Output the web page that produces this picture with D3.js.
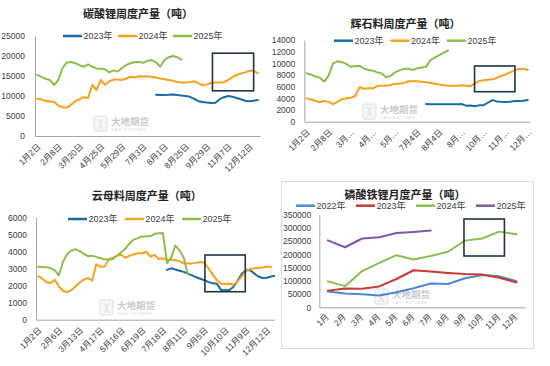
<!DOCTYPE html>
<html><head><meta charset="utf-8">
<script src="https://cdn.jsdelivr.net/npm/d3@7"></script>
<style>body{margin:0;background:#fff}svg{display:block}</style>
</head><body><svg id="c" width="550" height="366"></svg>
<script>
// ---------- DATA ----------
// Panel 1: 碳酸锂周度产量 (weekly, 53 weeks)
const lcLabels = ["1月2日","2月8日","3月20日","4月25日","5月29日","7月3日","8月1日","8月25日","9月29日","11月7日","12月12日"];
const lc2023Start = 28;
const lc2023 = [10300,10250,10250,10300,10400,10250,10100,10000,9800,9300,8700,8500,8350,8250,8300,9200,9700,10000,9800,9500,9200,8800,8700,8800,9000];
const lc2024Start = 0;
const lc2024 = [9300,9100,8800,8600,8500,7600,7200,7100,7800,8700,9200,9700,9500,12800,11500,14000,12800,13700,14100,14100,14000,14400,14800,14600,15000,14900,14850,14800,14600,14400,14200,14000,13800,13500,13400,13400,13500,13700,13200,12650,12900,13250,13400,13400,13450,14000,14700,15250,15600,15900,16300,16300,15700];
const lc2025Start = 0;
const lc2025 = [15300,14800,14300,14000,12700,14000,17000,18400,18500,18200,17700,17300,17900,17300,16900,16800,16700,15900,16400,16100,17000,17700,18200,18500,18500,18300,18800,19000,18400,17300,19000,19700,20000,19700,19100];

// Panel 2: 辉石料周度产量 (weekly, 51 weeks)
const hsLabels = ["1月2日","2月8日","3月…","4月…","5月…","7月4日","8月4日","8月…","10月…","11月…","12月…"];
const hs2023Start = 27;
const hs2023 = [3030,3000,2970,2990,3000,3000,3000,3010,3030,2750,2790,2640,2800,2820,3260,3700,3480,3400,3380,3420,3550,3550,3600,3720];
const hs2024Start = 0;
const hs2024 = [4000,3800,3600,3320,3560,3400,3000,3400,3850,4000,4100,4400,5900,5650,5750,5720,6100,6150,6200,6280,6500,6500,6650,6920,6920,6920,6850,6780,6650,6500,6380,6250,6170,6170,6170,6250,6150,6060,6550,6950,7120,7180,7260,7500,7850,8100,8450,8750,9050,9050,8850];
const hs2025Start = 0;
const hs2025 = [8300,8100,7750,7550,6860,7900,10000,10350,10200,9900,9400,9550,9550,9100,8850,8750,8450,8250,7600,7850,8450,8800,9050,9100,8850,9150,9300,9400,10550,11000,11400,11850,12200];

// Panel 3: 云母料周度产量 (weekly, 58 weeks, clipped at right)
const ymLabels = ["1月2日","2月6日","3月13日","4月17日","5月16日","6月19日","7月18日","8月11日","9月5日","10月10日","11月9日","12月12日"];
const ym2023Start = 31;
const ym2023 = [2920,3010,2940,2870,2800,2700,2600,2490,2400,2310,2200,2130,2100,1730,1720,1740,1930,2300,2700,2900,2900,2700,2520,2440,2460,2530,2580];
const ym2024Start = 0;
const ym2024 = [2550,2420,2200,2150,2340,1950,1680,1620,1730,1950,2180,2350,2440,2290,3250,3100,3110,3550,3630,3750,3800,3630,3750,3830,3890,3890,3980,3700,3800,3560,3600,3500,3520,3500,3430,3300,3300,3300,3330,3390,3330,3000,2640,2320,2100,2090,2110,2050,2260,2550,2850,2980,3010,3040,3060,3120,3080];
const ym2025Start = 0;
const ym2025 = [3100,3090,3070,3010,2900,2600,3400,3850,4050,4130,4020,3850,3720,3740,3680,3600,3540,3510,3560,3760,3950,4170,4480,4700,4780,4880,4880,4900,5030,5060,5080,3300,3650,4350,4050,3650,2650];

// Panel 4: 磷酸铁锂月度产量 (monthly)
const months = ["1月","2月","3月","4月","5月","6月","7月","8月","9月","10月","11月","12月"];
const lfp2022 = [60000,52000,49000,45000,57000,72000,90000,88000,110000,122000,117000,99000];
const lfp2023 = [63000,71000,70000,79000,107000,140000,135000,130000,126000,124000,112000,94000];
const lfp2024 = [98000,80000,137000,168000,197000,181000,194000,210000,252000,260000,286000,276000];
const lfp2025 = [253000,227000,260000,265000,281000,285000,290000];

const years3 = ["2023年","2024年","2025年"];
const years4 = ["2022年","2023年","2024年","2025年"];

// ---------- STYLE ----------
const C = {b23:"#1b6aa3", o24:"#f7a01c", g25:"#8dbd4c", b22:"#4a88d4", r23:"#cc3a33", g24:"#8dbd4c", p25:"#7c5aa6", box:"#1f3349", axis:"#a6a6a6", tick:"#404040"};
const FONT = "'Liberation Sans', Arial, 'Noto Sans CJK SC', sans-serif";
const CJK = "'Noto Sans CJK SC', sans-serif";

const svg = d3.select("#c").style("font-family", FONT);
svg.append("rect").attr("width",550).attr("height",366).attr("fill","#fff");

// Panel 4 frame
svg.append("rect").attr("x",281.5).attr("y",181.5).attr("width",252).attr("height",167)
  .attr("fill","#fff").attr("stroke","#dcdcdc").attr("stroke-width",1);

function watermark(g, x, y) {
  const w = g.append("g").attr("opacity", 0.55);
  w.append("rect").attr("x",x).attr("y",y).attr("width",13).attr("height",15).attr("rx",1.5)
    .attr("fill","#eef2f8").attr("stroke","#b9c6da").attr("stroke-width",1);
  w.append("path").attr("d",`M${x+4},${y+3} q5,4 0,10 M${x+9},${y+3} q-5,4 0,10`)
    .attr("fill","none").attr("stroke","#d8b77a").attr("stroke-width",1);
  w.append("text").attr("x",x+17).attr("y",y+8.5).text("大地期货")
    .attr("font-family",CJK).attr("font-size",9.5).attr("font-weight","bold").attr("fill","#9aa0ab");
  w.append("text").attr("x",x+17.5).attr("y",y+14.5).text("DADI FUTURES")
    .attr("font-size",3.6).attr("letter-spacing",0.7).attr("fill","#a9aeb8");
}

function panel(cfg) {
  const g = svg.append("g");
  if (cfg.clip) {
    svg.append("defs").append("clipPath").attr("id", cfg.clip.id)
      .append("rect").attr("x",cfg.clip.x).attr("y",cfg.clip.y).attr("width",cfg.clip.w).attr("height",cfg.clip.h);
    g.attr("clip-path", `url(#${cfg.clip.id})`);
  }
  const x = d3.scaleLinear().domain(cfg.xDomain).range([cfg.left, cfg.right]);
  const y = d3.scaleLinear().domain([0, cfg.yMax]).range([cfg.bottom, cfg.top]);

  // title
  svg.append("text").attr("x", cfg.titleX).attr("y", cfg.titleY).attr("dy","0.35em")
    .attr("text-anchor","middle").attr("font-family",CJK).attr("font-weight","bold")
    .attr("font-size",11).attr("fill","#222").text(cfg.title);

  watermark(g, cfg.wm[0], cfg.wm[1]);

  // y axis
  const ya = g.append("g").attr("transform",`translate(${cfg.left},0)`)
    .call(d3.axisLeft(y).tickValues(d3.range(0, cfg.yMax + 1, cfg.yStep)).tickSize(0).tickSizeOuter(0)
      .tickPadding(cfg.yPad).tickFormat(d3.format("d")));
  ya.select(".domain").attr("stroke", C.axis);
  ya.selectAll("text").attr("font-size",8.5).attr("fill",C.tick).attr("font-family",FONT);

  // x axis
  const xa = g.append("g").attr("transform",`translate(0,${cfg.bottom})`)
    .call(d3.axisBottom(x).tickValues(cfg.tickIdx).tickSize(0).tickSizeOuter(0)
      .tickFormat((d,i) => cfg.tickLabels[i]));
  xa.select(".domain").attr("stroke", C.axis);
  xa.selectAll("text").attr("font-size",8.5).attr("fill",C.tick).attr("font-family",FONT)
    .attr("text-anchor","end").attr("x",0).attr("y",0).attr("dy","0.35em")
    .attr("transform",`translate(${cfg.lx},${cfg.ly}) rotate(-45)`);

  // series
  const line = d3.line().defined(d => d.v != null).x(d => x(d.i)).y(d => y(d.v));
  cfg.series.forEach(s => {
    const pts = s.values.map((v, k) => ({i: s.start + k, v}));
    g.append("path").datum(pts).attr("d", line).attr("fill","none")
      .attr("stroke", s.color).attr("stroke-width", 2).attr("stroke-linejoin","round").attr("stroke-linecap","round");
  });

  // highlight box (in data units)
  const b = cfg.box;
  g.append("rect").attr("x", x(b[0])).attr("y", y(b[3]))
    .attr("width", x(b[1]) - x(b[0])).attr("height", y(b[2]) - y(b[3]))
    .attr("fill","none").attr("stroke",C.box).attr("stroke-width",1.6);

  // legend
  const lg = svg.append("g");
  cfg.series.forEach((s, k) => {
    const lx = cfg.legend[0] + k * cfg.legend[2];
    lg.append("line").attr("x1",lx).attr("x2",lx+19).attr("y1",cfg.legend[1]).attr("y2",cfg.legend[1])
      .attr("stroke",s.color).attr("stroke-width",2.5);
    lg.append("text").attr("x",lx+20.5).attr("y",cfg.legend[1]).attr("dy","0.35em")
      .attr("font-size",9).attr("fill","#404040").text(s.name);
  });
}

const every5 = n => d3.range(n).map(k => k * 5);

panel({
  title:"碳酸锂周度产量（吨）", titleX:138, titleY:14,
  left:35, right:260, top:36, bottom:136, xDomain:[-0.5, 52.5],
  yMax:25000, yStep:5000, yPad:10,
  tickIdx: every5(lcLabels.length), tickLabels: lcLabels, lx:1.5, ly:9,
  series:[
    {name:years3[0], color:C.b23, start:lc2023Start, values:lc2023},
    {name:years3[1], color:C.o24, start:lc2024Start, values:lc2024},
    {name:years3[2], color:C.g25, start:lc2025Start, values:lc2025}],
  box:[41.3, 51.0, 11300, 20700],
  legend:[63, 36, 55], wm:[94,116]
});

panel({
  title:"辉石料周度产量（吨）", titleX:405.5, titleY:24,
  left:304.3, right:530, top:40, bottom:121.7, xDomain:[-0.5, 50.5],
  yMax:14000, yStep:2000, yPad:9,
  tickIdx: every5(hsLabels.length), tickLabels: hsLabels, lx:1.5, ly:9,
  series:[
    {name:years3[0], color:C.b23, start:hs2023Start, values:hs2023},
    {name:years3[1], color:C.o24, start:hs2024Start, values:hs2024},
    {name:years3[2], color:C.g25, start:hs2025Start, values:hs2025}],
  box:[37.97, 47.1, 5140, 9550],
  legend:[334, 40.7, 56.5], wm:[363,104]
});

panel({
  title:"云母料周度产量（吨）", titleX:146.7, titleY:196.3,
  left:36, right:277.3, top:217.3, bottom:319.7, xDomain:[-0.5, 57.5],
  yMax:6000, yStep:1000, yPad:9,
  tickIdx: every5(ymLabels.length), tickLabels: ymLabels, lx:1.5, ly:9,
  series:[
    {name:years3[0], color:C.b23, start:ym2023Start, values:ym2023},
    {name:years3[1], color:C.o24, start:ym2024Start, values:ym2024},
    {name:years3[2], color:C.g25, start:ym2025Start, values:ym2025}],
  box:[40.1, 49.8, 1640, 3790],
  legend:[68, 219, 57], wm:[100,300],
  clip:{id:"cp3", x:0, y:183, w:275, h:183}
});

panel({
  title:"磷酸铁锂月度产量（吨）", titleX:405, titleY:194.7,
  left:319.3, right:525, top:214.7, bottom:307.3, xDomain:[-0.5, 11.5],
  yMax:350000, yStep:50000, yPad:8,
  tickIdx: d3.range(months.length), tickLabels: months, lx:-1, ly:8,
  series:[
    {name:years4[0], color:C.b22, start:0, values:lfp2022},
    {name:years4[1], color:C.r23, start:0, values:lfp2023},
    {name:years4[2], color:C.g24, start:0, values:lfp2024},
    {name:years4[3], color:C.p25, start:0, values:lfp2025}],
  box:[7.94, 10.3, 193900, 333700],
  legend:[296, 205.7, 60], wm:[375,289]
});
</script>
</body></html>
